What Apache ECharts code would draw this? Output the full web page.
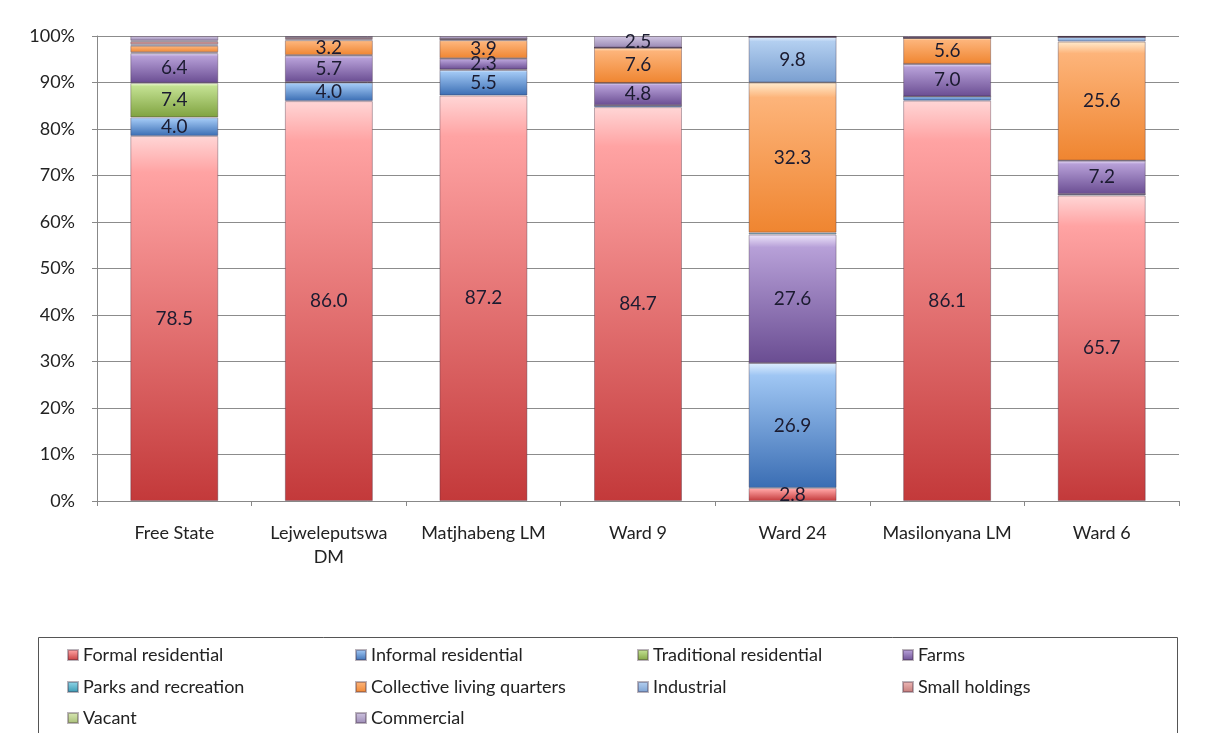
<!DOCTYPE html>
<html>
<head>
<meta charset="utf-8">
<script src="https://cdn.jsdelivr.net/npm/echarts@6/dist/echarts.min.js"></script>
<style>
  html, body { margin: 0; padding: 0; background: #fff; }
  #chart { width: 1205px; height: 733px; }
</style>
</head>
<body>
<div id="chart"></div>
<script>
const categories = ["Free State", "Lejweleputswa\nDM", "Matjhabeng LM", "Ward 9", "Ward 24", "Masilonyana LM", "Ward 6"];
const yTicks = [0, 10, 20, 30, 40, 50, 60, 70, 80, 90, 100];

const formalResidential = [78.5, 86.0, 87.2, 84.7, 2.8, 86.1, 65.7];
const informalResidential = [4.0, 4.0, 5.5, 0.4, 26.9, 0.9, 0.3];
const traditionalResidential = [7.4, 0.1, 0.1, 0, 0, 0, 0];
const farms = [6.4, 5.7, 2.3, 4.8, 27.6, 7.0, 7.2];
const parksAndRecreation = [0.2, 0.1, 0.1, 0, 0.4, 0, 0];
const collectiveLivingQuarters = [1.4, 3.2, 3.9, 7.6, 32.3, 5.6, 25.6];
const industrial = [0.3, 0.2, 0.1, 0, 9.8, 0, 1.0];
const smallHoldings = [0.6, 0.3, 0.2, 0, 0, 0, 0];
const vacant = [0.2, 0.1, 0, 0, 0, 0, 0];
const commercial = [1.0, 0.3, 0.6, 2.5, 0.2, 0.4, 0.2];

// [highlight, light, dark]
const palette = {
  "Formal residential": ["#ffd6d6", "#ffa3a3", "#c3393a"],
  "Informal residential": ["#e0efff", "#9fc6f3", "#3a6db3"],
  "Traditional residential": ["#eefad8", "#c3e192", "#7fa23f"],
  "Farms": ["#eee6fa", "#b7a0d8", "#6a4d92"],
  "Parks and recreation": ["#dcf4fa", "#8dd3e6", "#3596b0"],
  "Collective living quarters": ["#ffeccf", "#fdb47a", "#ef8530"],
  "Industrial": ["#e8f2ff", "#b3cff0", "#7a9fd0"],
  "Small holdings": ["#fbe3e3", "#ecb6b5", "#c47977"],
  "Vacant": ["#f3f9e2", "#d6e6b1", "#a6bd75"],
  "Commercial": ["#f1ecf9", "#ccc1de", "#9a89b4"]
};

const seriesData = [
  ["Formal residential", formalResidential],
  ["Informal residential", informalResidential],
  ["Traditional residential", traditionalResidential],
  ["Farms", farms],
  ["Parks and recreation", parksAndRecreation],
  ["Collective living quarters", collectiveLivingQuarters],
  ["Industrial", industrial],
  ["Small holdings", smallHoldings],
  ["Vacant", vacant],
  ["Commercial", commercial]
];

function grad(c) {
  return new echarts.graphic.LinearGradient(0, 0, 0, 1, [
    { offset: 0, color: c[0] },
    { offset: 0.1, color: c[1] },
    { offset: 1, color: c[2] }
  ]);
}

const font = "Lato, 'Open Sans', sans-serif";
// legend laid out as a 4-column grid, one legend component per entry
const legendCols = [67, 355, 637, 902];
const legendRows = [646, 678, 709];
const legendGrid = [
  ["Formal residential", "Informal residential", "Traditional residential", "Farms"],
  ["Parks and recreation", "Collective living quarters", "Industrial", "Small holdings"],
  ["Vacant", "Commercial"]
];
const legends = [];
legendGrid.forEach((row, r) =>
  row.forEach((name, c) =>
    legends.push({
      left: legendCols[c],
      top: legendRows[r],
      itemWidth: 10,
      itemHeight: 10,
      icon: "rect",
      selectedMode: false,
      padding: 0,
      textStyle: { fontSize: 18, color: "#222", fontFamily: font },
      data: [name]
    })
  )
);

const chart = echarts.init(document.getElementById("chart"));
chart.setOption({
  animation: false,
  backgroundColor: "#fff",
  textStyle: { fontFamily: font },
  grid: { left: 97, right: 26, top: 36, bottom: 232 },
  legend: legends,
  graphic: [
    { type: "rect", shape: { x: 38.5, y: 637.5, width: 1139, height: 110 }, style: { fill: "none", stroke: "#555", lineWidth: 1 }, silent: true }
  ],
  xAxis: {
    type: "category",
    data: categories,
    axisLine: { lineStyle: { color: "#888" } },
    axisTick: { show: true, length: 5, lineStyle: { color: "#888" } },
    axisLabel: { color: "#222", fontSize: 18, fontFamily: font, margin: 20, lineHeight: 24, interval: 0 }
  },
  yAxis: {
    type: "value",
    min: yTicks[0],
    max: yTicks[yTicks.length - 1],
    interval: 10,
    axisLine: { show: true, lineStyle: { color: "#888" } },
    axisTick: { show: true, length: 5, lineStyle: { color: "#888" } },
    splitLine: { lineStyle: { color: "#8c8c8c", width: 1 } },
    axisLabel: { color: "#222", fontSize: 18, fontFamily: font, margin: 22, formatter: "{value}%" }
  },
  series: seriesData.map(([name, data]) => ({
    name,
    type: "bar",
    stack: "total",
    barWidth: 88,
    data,
    itemStyle: { color: grad(palette[name]), borderColor: "rgba(60,40,60,0.35)", borderWidth: 1 },
    label: {
      show: true,
      position: "inside",
      fontSize: 19,
      fontFamily: font,
      color: "#1b1b30",
      formatter: (p) => (p.value >= 2 ? p.value.toFixed(1) : "")
    }
  }))
});
</script>
</body>
</html>
